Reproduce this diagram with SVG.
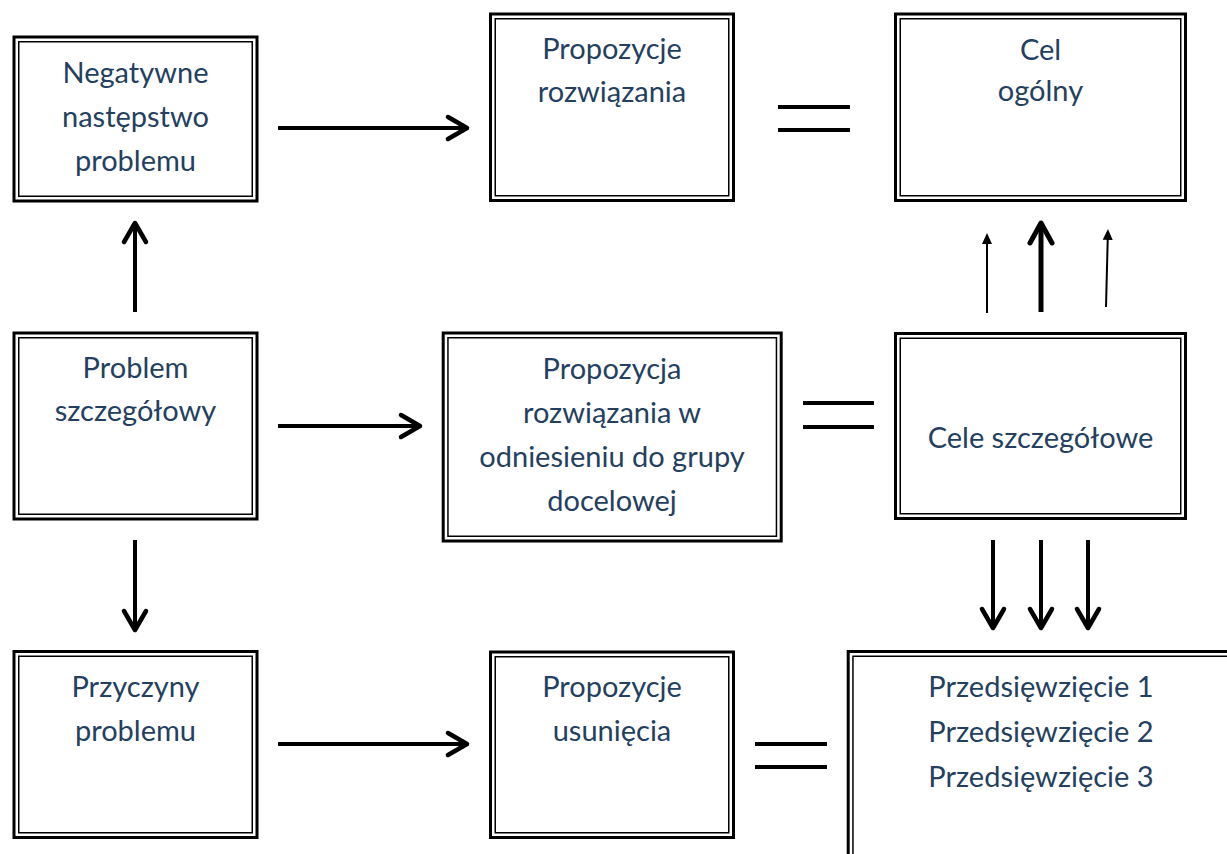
<svg xmlns="http://www.w3.org/2000/svg" width="1227" height="854" viewBox="0 0 1227 854">
  <style>
    .outer { fill: #ffffff; stroke: #000000; stroke-width: 3; }
    .inner { fill: none; stroke: #000000; stroke-width: 1.5; }
    .lbl { font-family: Lato, "Open Sans", "Liberation Sans", sans-serif; font-size: 29px; fill: #243f60; text-anchor: middle; }
    .arr { stroke: #000000; stroke-width: 4; fill: none; }
    .arr5 { stroke: #000000; stroke-width: 5; fill: none; }
    .thin { stroke: #000000; stroke-width: 2; fill: none; }
    .eq { stroke: #000000; stroke-width: 4; }
  </style>
  <defs>
    <marker id="chev" markerUnits="userSpaceOnUse" viewBox="-25 -15 30 30" markerWidth="30" markerHeight="30" refX="0" refY="0" orient="auto">
      <path d="M-19,-11 L0,0 L-19,11" fill="none" stroke="#000000" stroke-width="4.5" stroke-linecap="round" stroke-linejoin="round"/>
    </marker>
    <marker id="chev5" markerUnits="userSpaceOnUse" viewBox="-25 -15 30 30" markerWidth="30" markerHeight="30" refX="0" refY="0" orient="auto">
      <path d="M-20,-11 L0,0 L-20,11" fill="none" stroke="#000000" stroke-width="5" stroke-linecap="round" stroke-linejoin="round"/>
    </marker>
    <marker id="tri" markerUnits="userSpaceOnUse" viewBox="-14 -8 16 16" markerWidth="16" markerHeight="16" refX="-3" refY="0" orient="auto">
      <path d="M-11,-5 L0,0 L-11,5 Z" fill="#000000"/>
    </marker>
  </defs>
  <rect width="1227" height="854" fill="#ffffff"/>

  <g id="connectors">
    <line class="arr" x1="278" y1="128" x2="467" y2="128" marker-end="url(#chev)"/>
    <line class="arr" x1="135" y1="312" x2="135" y2="223" marker-end="url(#chev)"/>
    <line class="arr" x1="278" y1="426" x2="420" y2="426" marker-end="url(#chev)"/>
    <line class="arr" x1="135" y1="540" x2="135" y2="630" marker-end="url(#chev)"/>
    <line class="arr" x1="278" y1="744" x2="467" y2="744" marker-end="url(#chev)"/>
    <line class="thin" x1="987" y1="313" x2="987" y2="236" marker-end="url(#tri)"/>
    <line class="arr5" x1="1041" y1="312" x2="1041" y2="223" marker-end="url(#chev5)"/>
    <line class="thin" x1="1106" y1="307" x2="1107.9" y2="232" marker-end="url(#tri)"/>
    <line class="arr" x1="993" y1="540" x2="993" y2="628" marker-end="url(#chev)"/>
    <line class="arr" x1="1041" y1="540" x2="1041" y2="628" marker-end="url(#chev)"/>
    <line class="arr" x1="1088" y1="540" x2="1088" y2="628" marker-end="url(#chev)"/>
    <line class="eq" x1="778" y1="107" x2="850" y2="107"/>
    <line class="eq" x1="778" y1="130" x2="850" y2="130"/>
    <line class="eq" x1="803" y1="403" x2="874" y2="403"/>
    <line class="eq" x1="803" y1="427" x2="874" y2="427"/>
    <line class="eq" x1="755" y1="744" x2="827" y2="744"/>
    <line class="eq" x1="755" y1="767" x2="827" y2="767"/>
  </g>

  <g id="negatywne">
    <rect class="outer" x="14" y="37" width="243" height="164"/>
    <rect class="inner" x="18.75" y="41.75" width="233.5" height="154.5"/>
    <text class="lbl" x="135.5" y="83">Negatywne</text>
    <text class="lbl" x="135.5" y="127">następstwo</text>
    <text class="lbl" x="135.5" y="171">problemu</text>
  </g>

  <g id="propozycje-rozwiazania">
    <rect class="outer" x="490.5" y="14" width="243" height="186.5"/>
    <rect class="inner" x="495.25" y="18.75" width="233.5" height="177"/>
    <text class="lbl" x="612" y="59">Propozycje</text>
    <text class="lbl" x="612" y="102">rozwiązania</text>
  </g>

  <g id="cel-ogolny">
    <rect class="outer" x="895.5" y="14" width="290" height="186.5"/>
    <rect class="inner" x="900.25" y="18.75" width="280.5" height="177"/>
    <text class="lbl" x="1040.5" y="60">Cel</text>
    <text class="lbl" x="1040.5" y="101">ogólny</text>
  </g>

  <g id="problem-szczegolowy">
    <rect class="outer" x="14" y="333" width="243" height="186"/>
    <rect class="inner" x="18.75" y="337.75" width="233.5" height="176.5"/>
    <text class="lbl" x="135.5" y="378">Problem</text>
    <text class="lbl" x="135.5" y="421">szczegółowy</text>
  </g>

  <g id="propozycja-grupa">
    <rect class="outer" x="443.2" y="333" width="338" height="208"/>
    <rect class="inner" x="447.95" y="337.75" width="328.5" height="198.5"/>
    <text class="lbl" x="612" y="379">Propozycja</text>
    <text class="lbl" x="612" y="423">rozwiązania w</text>
    <text class="lbl" x="612" y="467">odniesieniu do grupy</text>
    <text class="lbl" x="612" y="511">docelowej</text>
  </g>

  <g id="cele-szczegolowe">
    <rect class="outer" x="895.5" y="333.5" width="290" height="185"/>
    <rect class="inner" x="900.25" y="338.25" width="280.5" height="175.5"/>
    <text class="lbl" x="1040.5" y="448">Cele szczegółowe</text>
  </g>

  <g id="przyczyny">
    <rect class="outer" x="14" y="651.5" width="243" height="186"/>
    <rect class="inner" x="18.75" y="656.25" width="233.5" height="176.5"/>
    <text class="lbl" x="135.5" y="697">Przyczyny</text>
    <text class="lbl" x="135.5" y="741">problemu</text>
  </g>

  <g id="propozycje-usuniecia">
    <rect class="outer" x="490.5" y="652" width="243" height="185.5"/>
    <rect class="inner" x="495.25" y="656.75" width="233.5" height="176"/>
    <text class="lbl" x="612" y="697">Propozycje</text>
    <text class="lbl" x="612" y="741">usunięcia</text>
  </g>

  <g id="przedsiewziecia">
    <rect class="outer" x="848.2" y="651.5" width="400" height="300"/>
    <rect class="inner" x="852.95" y="656.25" width="390.5" height="290.5"/>
    <text class="lbl" x="1041" y="697">Przedsięwzięcie 1</text>
    <text class="lbl" x="1041" y="742">Przedsięwzięcie 2</text>
    <text class="lbl" x="1041" y="787">Przedsięwzięcie 3</text>
  </g>
</svg>
